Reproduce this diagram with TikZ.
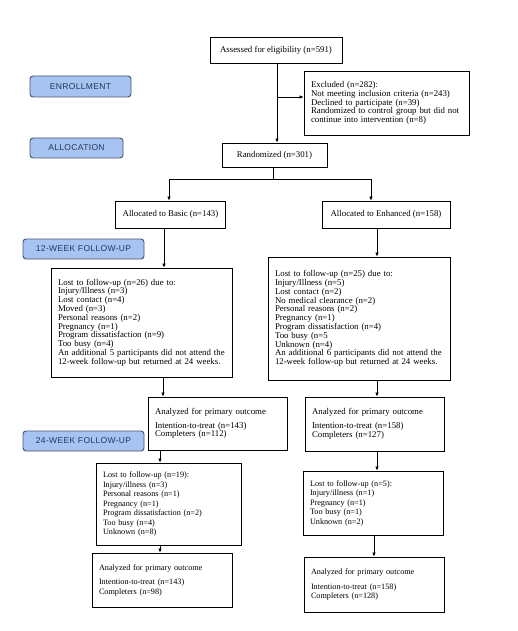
\documentclass[tikz,border=0pt]{standalone}
\usepackage{fontspec}
\setmainfont{Liberation Serif}
\newfontfamily\stagefont[LetterSpace=4]{Liberation Sans}
\usetikzlibrary{arrows.meta,positioning,calc}
\definecolor{stageFill}{HTML}{A7C3F2}
\definecolor{stageLine}{HTML}{46536B}
\definecolor{stageText}{HTML}{23375A}

\begin{document}
\begin{tikzpicture}[x=1pt,y=-1pt,
    flowbox/.style={draw,line width=0.85pt,inner xsep=7pt,inner ysep=2pt,font=\fontsize{8.8}{8.8}\selectfont},
    timesbox/.style={flowbox,font=\fontsize{8.2}{9.5}\selectfont},
    stagelbl/.style={draw=stageLine,fill=stageFill,line width=0.9pt,rounded corners=3pt,text=stageText,
      inner sep=0pt,font=\stagefont\fontsize{8.5}{9}\selectfont},
    arr/.style={-{Latex[length=4pt,width=3.6pt]},line width=0.75pt}]
  \useasboundingbox (0,0) rectangle (518,631);

  \node[stagelbl,minimum width=101pt,minimum height=21pt] (enroll) at (80.5,86.5) {ENROLLMENT};
  \node[stagelbl,minimum width=93pt,minimum height=20pt] (alloc) at (76.5,148) {ALLOCATION};
  \node[stagelbl,minimum width=121pt,minimum height=20pt] (wk12) at (83.5,249) {12-WEEK FOLLOW-UP};
  \node[stagelbl,minimum width=121pt,minimum height=20pt] (wk24) at (83.5,441) {24-WEEK FOLLOW-UP};

  \node[flowbox,minimum width=132pt,minimum height=26pt] (assess) at (276,50) {Assessed for eligibility (n=591)};
  \node[flowbox,align=left,text width=151pt,minimum height=64pt] (excl) at (386.5,103)
    {Excluded (n=282):\\Not meeting inclusion criteria (n=243)\\Declined to participate (n=39)\\
     Randomized to control group but did not\\continue into intervention (n=8)};
  \node[flowbox,minimum width=105pt,minimum height=24pt] (rand) at (274.5,155) {Randomized (n=301)};

  \node[flowbox,minimum width=107pt,minimum height=27pt] (basic) at (170.5,214.5) {Allocated to Basic (n=143)};
  \node[flowbox,minimum width=128pt,minimum height=27pt] (enh) at (386,214.5) {Allocated to Enhanced (n=158)};

  \node[flowbox,align=left,text width=167pt,minimum height=109pt] (lostA) at (141.5,322.5)
    {Lost to follow-up (n=26) due to:\\Injury/Illness (n=3)\\Lost contact (n=4)\\Moved (n=3)\\
     Personal reasons (n=2)\\Pregnancy (n=1)\\Program dissatisfaction (n=9)\\Too busy (n=4)\\
     An additional 5 participants did not attend the\\12-week follow-up but returned at 24 weeks.};
  \node[flowbox,align=left,text width=168pt,minimum height=123pt] (lostB) at (359,318.5)
    {Lost to follow-up (n=25) due to:\\Injury/Illness (n=5)\\Lost contact (n=2)\\No medical clearance (n=2)\\
     Personal reasons (n=2)\\Pregnancy (n=1)\\Program dissatisfaction (n=4)\\Too busy (n=5\\Unknown (n=4)\\
     An additional 6 participants did not attend the\\12-week follow-up but returned at 24 weeks.};

  \node[flowbox,align=left,text width=125pt,minimum height=53pt] (anaA) at (217.5,423.5)
    {Analyzed for primary outcome\\[5pt]Intention-to-treat (n=143)\\Completers (n=112)};
  \node[flowbox,align=left,text width=125pt,minimum height=54pt] (anaB) at (374.5,424)
    {Analyzed for primary outcome\\[5pt]Intention-to-treat (n=158)\\Completers (n=127)};

  \node[timesbox,align=left,text width=131pt,minimum height=82pt] (lostA24) at (168.5,504)
    {Lost to follow-up (n=19):\\Injury/illness (n=3)\\Personal reasons (n=1)\\Pregnancy (n=1)\\
     Program dissatisfaction (n=2)\\Too busy (n=4)\\Unknown (n=8)};
  \node[timesbox,align=left,text width=126pt,minimum height=64pt] (lostB24) at (373,503)
    {Lost to follow-up (n=5):\\Injury/illness (n=1)\\Pregnancy (n=1)\\Too busy (n=1)\\Unknown (n=2)};

  \node[timesbox,align=left,text width=126pt,minimum height=54pt] (anaA24) at (162,580)
    {Analyzed for primary outcome\\[5pt]Intention-to-treat (n=143)\\Completers (n=98)};
  \node[timesbox,align=left,text width=126pt,minimum height=55pt] (anaB24) at (374,584.5)
    {Analyzed for primary outcome\\[5pt]Intention-to-treat (n=158)\\Completers (n=128)};

  \coordinate (excljoin) at ([xshift=1pt]assess.south |- 0,97);
  \coordinate (split) at ([xshift=-1.5pt]rand.south |- 0,179);
  \draw[arr] ([xshift=1pt]assess.south) -- ([xshift=1pt]assess.south |- rand.north);
  \draw[arr] (excljoin) -- (excljoin -| excl.west);
  \draw ([xshift=-1.5pt]rand.south) -- (split);
  \draw[arr] (split) -| ([xshift=-1.5pt]basic.north);
  \draw[arr] (split) -| ([xshift=-15pt]enh.north);

  \draw[arr] ([xshift=-6.5pt]basic.south) -- ([xshift=-6.5pt]basic.south |- lostA.north);
  \draw[arr] ([xshift=-9pt]enh.south) -- ([xshift=-9pt]enh.south |- lostB.north);
  \draw[arr] ([xshift=21.5pt]lostA.south) -- ([xshift=21.5pt]lostA.south |- anaA.north);
  \draw[arr] ([xshift=18pt]lostB.south) -- ([xshift=18pt]lostB.south |- anaB.north);
  \draw[arr] ([xshift=-57.5pt]anaA.south) -- ([xshift=-57.5pt]anaA.south |- lostA24.north);
  \draw[arr] ([xshift=-8.5pt]lostA24.south) -- ([xshift=-8.5pt]lostA24.south |- anaA24.north);
  \draw[arr] ([xshift=2.5pt]anaB.south) -- ([xshift=2.5pt]anaB.south |- lostB24.north);
  \draw[arr] ([xshift=1pt]lostB24.south) -- ([xshift=1pt]lostB24.south |- anaB24.north);
\end{tikzpicture}
\end{document}
